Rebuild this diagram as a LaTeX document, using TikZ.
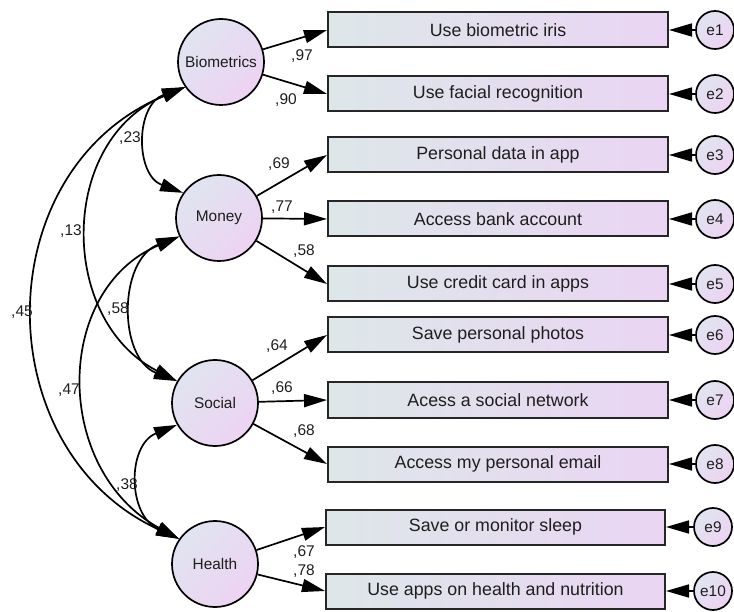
\documentclass[tikz,border=0pt]{standalone}
\usepackage{fontspec}
\setmainfont{Liberation Sans}
\usetikzlibrary{arrows.meta}
\definecolor{boxL}{RGB}{221,231,233}
\definecolor{boxR}{RGB}{234,213,243}
\definecolor{cirA}{RGB}{224,228,240}
\definecolor{cirB}{RGB}{237,211,242}
\definecolor{txt}{RGB}{30,30,30}
\begin{document}
\begin{tikzpicture}[x=1pt,y=-1pt,
  lat/.style={circle,draw=black,line width=1.7pt,minimum size=86pt,inner sep=0pt,
    top color=cirA,bottom color=cirB,shading angle=45,text=txt,
    font=\fontsize{15.4}{17}\selectfont},
  obs/.style={rectangle,draw=black!85,line width=2pt,minimum width=340pt,minimum height=35pt,inner sep=0pt,
    left color=boxL,right color=boxR,text=txt,font=\fontsize{17.8}{20}\selectfont},
  obsb/.style={obs,minimum width=339pt},
  err/.style={circle,draw=black,line width=1.7pt,minimum size=38pt,inner sep=0pt,
    top color=cirA,bottom color=cirB,shading angle=45,text=txt,
    font=\fontsize{15.4}{17}\selectfont},
  lbl/.style={inner sep=0pt,text=txt,font=\fontsize{15.5}{17}\selectfont},
  loadarr/.style={line width=1.7pt,-{Triangle[length=23pt,width=13pt]}},
  covarr/.style={line width=1.7pt,{Triangle[length=23pt,width=13pt]}-{Triangle[length=23pt,width=13pt]}}
]
\useasboundingbox (0,0) rectangle (734,612);

% latent variables
\node[lat] (bio) at (221,62) {Biometrics};
\node[lat] (mon) at (219,218) {Money};
\node[lat] (soc) at (215,403) {Social};
\node[lat] (hea) at (215,564) {Health};

% observed variables
\node[obs] (b1) at (498,30) {Use biometric iris};
\node[obs] (b2) at (498,94) {Use facial recognition};
\node[obs] (b3) at (498,155) {Personal data in app};
\node[obs] (b4) at (498,219) {Access bank account};
\node[obs] (b5) at (498,284) {Use credit card in apps};
\node[obs] (b6) at (498,335) {Save personal photos};
\node[obs] (b7) at (498,400) {Acess a social network};
\node[obs] (b8) at (498,464) {Access my personal email};
\node[obsb] (b9) at (495.5,527) {Save or monitor sleep};
\node[obsb] (b10) at (495.5,591) {Use apps on health and nutrition};

% errors
\node[err] (e1) at (715,30) {e1};
\node[err] (e2) at (715,94) {e2};
\node[err] (e3) at (715,155) {e3};
\node[err] (e4) at (715,219) {e4};
\node[err] (e5) at (715,284) {e5};
\node[err] (e6) at (715,335) {e6};
\node[err] (e7) at (715,400) {e7};
\node[err] (e8) at (715,464) {e8};
\node[err] (e9) at (713,527) {e9};
\node[err] (e10) at (713,591) {e10};

% error arrows
\foreach \i in {1,...,10}{
  \draw[loadarr] (e\i) -- (b\i.east);
}

% loadings
\draw[loadarr] (bio) -- (b1.west);
\draw[loadarr] (bio) -- (b2.west);
\draw[loadarr] (mon) -- (b3.west);
\draw[loadarr] (mon) -- (b4.west);
\draw[loadarr] (mon) -- (b5.west);
\draw[loadarr] (soc) -- (b6.west);
\draw[loadarr] (soc) -- (b7.west);
\draw[loadarr] (soc) -- (b8.west);
\draw[loadarr] (hea) -- (b9.west);
\draw[loadarr] (hea) -- (b10.west);

\node[lbl] (l97) at (302,56) {,97};
\node[lbl] (l90) at (286,100) {,90};
\node[lbl] (l69) at (279,164) {,69};
\node[lbl] (l77) at (282,207) {,77};
\node[lbl] (l58b) at (304,251) {,58};
\node[lbl] (l64) at (277,346) {,64};
\node[lbl] (l66) at (282,388) {,66};
\node[lbl] (l68) at (304,431) {,68};
\node[lbl] (l67) at (304,552) {,67};
\node[lbl] (l78) at (304,571) {,78};

% covariances
\draw[covarr] (bio.215) .. controls (135,105) and (135,175) .. (mon.145);
\draw[covarr] (bio.215) .. controls (58,140) and (58,320) .. (soc.150);
\draw[covarr] (bio.215) .. controls (-14,170) and (-14,450) .. (hea.145);
\draw[covarr] (mon.205) .. controls (118,260) and (118,358) .. (soc.150);
\draw[covarr] (mon.205) .. controls (53,290) and (53,470) .. (hea.145);
\draw[covarr] (soc.210) .. controls (127,445) and (127,515) .. (hea.145);

\node[lbl] (c23) at (130,138) {,23};
\node[lbl] (c13) at (71,231) {,13};
\node[lbl] (c45) at (22,312) {,45};
\node[lbl] (c58) at (118,309) {,58};
\node[lbl] (c47) at (69,390) {,47};
\node[lbl] (c38) at (127,485) {,38};
\end{tikzpicture}
\end{document}
